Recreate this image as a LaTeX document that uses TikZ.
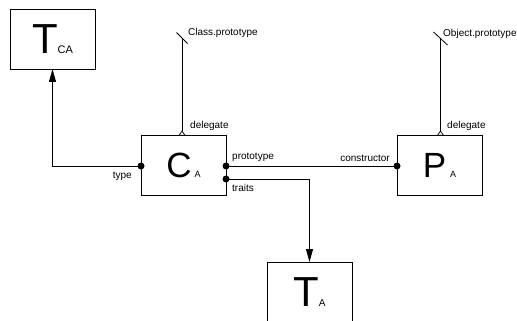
\documentclass[tikz,border=0pt]{standalone}
\usepackage{fontspec}
\setmainfont{Liberation Sans}
\usetikzlibrary{arrows.meta}
\begin{document}
\begin{tikzpicture}[x=1pt,y=-1pt,
  box/.style={draw,line width=0.8pt,minimum width=85pt,minimum height=60pt,inner sep=0pt,outer sep=0pt},
  lbl/.style={font=\fontsize{10}{12}\selectfont,inner sep=0pt},
  conn/.style={line width=0.8pt},
  dotnode/.style={circle,fill,inner sep=0pt,minimum size=7pt},
  bigarrow/.style={-{Triangle[length=13pt,width=7pt]}},
  delarrow/.style={{Triangle[reversed,fill=white,length=5pt,width=7pt,line width=0.7pt]}-}]
\useasboundingbox (0,0) rectangle (517,321);
\fill[white] (0,0) rectangle (517,321);

% boxes
\node[box] (tca) at (52.5,39) {\fontsize{42}{42}\selectfont T\fontsize{11}{11}\selectfont CA};
\node[box] (ca) at (183.5,165.5) {\fontsize{35}{35}\selectfont C\kern3pt\fontsize{9}{9}\selectfont A};
\node[box] (pa) at (439.5,165.5) {\fontsize{35}{35}\selectfont P\kern4pt\fontsize{9}{9}\selectfont A};
\node[box] (ta) at (309.5,292) {\fontsize{42}{42}\selectfont T\fontsize{10}{10}\selectfont A};

% dots
\node[dotnode] (dtype) at (141,166) {};
\node[dotnode] (dproto) at (226,166) {};
\node[dotnode] (dtraits) at (226,179) {};
\node[dotnode] (dcons) at (397,166) {};

% connectors
\draw[conn,bigarrow] (dtype.center) -| (tca.south);
\draw[conn] (dproto.center) -- (dcons.center);
\draw[conn,bigarrow] (dtraits.center) -| (ta.north);

\coordinate (ctop) at (182,38);
\coordinate (ptop) at (440.5,38.5);
\draw[conn,delarrow] (ca.north -| ctop) -- (ctop);
\draw[conn,delarrow] (pa.north -| ptop) -- (ptop);
\draw[conn] ([shift={(-5.5,-5.5)}]ctop) -- ([shift={(5.5,5.5)}]ctop);
\draw[conn] ([shift={(-7,-6.5)}]ptop) -- ([shift={(7,6.5)}]ptop);

% labels
\node[lbl,anchor=east] (ltype) at (132,176) {type};
\node[lbl,anchor=west] (lproto) at (232,157) {prototype};
\node[lbl,anchor=west] (ltraits) at (232,188) {traits};
\node[lbl,anchor=east] (lcons) at (390,158) {constructor};
\node[lbl,anchor=west] (ldel1) at (190,126) {delegate};
\node[lbl,anchor=west] (ldel2) at (447,126) {delegate};
\node[lbl,anchor=west] (lclass) at (188,33) {Class.prototype};
\node[lbl,anchor=west] (lobj) at (443,34) {Object.prototype};
\end{tikzpicture}
\end{document}
